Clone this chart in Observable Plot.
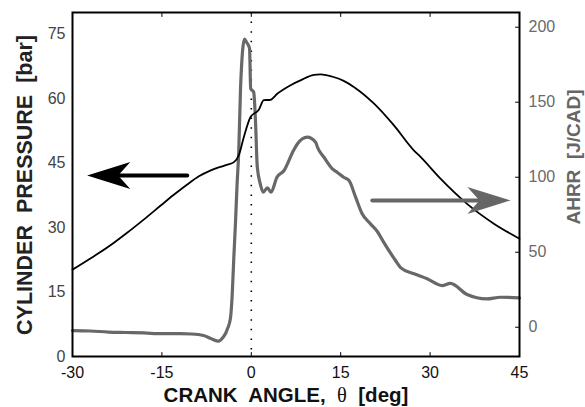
<!DOCTYPE html>
<html>
<head>
<meta charset="utf-8">
<script src="https://cdn.jsdelivr.net/npm/d3@7"></script>
<script src="https://cdn.jsdelivr.net/npm/@observablehq/plot@0.6"></script>
<style>
  html, body { margin: 0; padding: 0; background: #fff; }
  #chart { width: 585px; height: 407px; }
</style>
</head>
<body>
<div id="chart"></div>
<script>
// Cylinder pressure trace [bar] vs crank angle [deg]
const pressureAngle = [-30, -27, -24, -21, -18, -15.2, -13, -10.75, -8.8, -6.8, -4.5, -2.9, -2.1, -1.26, -0.13, 1.26, 2.1, 3.2, 4.35, 6.6, 8.25, 10.5, 11.6, 13.8, 15.5, 17.2, 20.6, 23.9, 27.3, 28.4, 31.7, 36.2, 40.7, 45];
const pressure      = [20.2, 22.8, 25.5, 28.6, 31.9, 35.1, 37.6, 40.0, 41.9, 43.3, 44.4, 45.2, 46.8, 51.0, 55.7, 57.4, 59.6, 59.7, 61.1, 63.1, 64.2, 65.5, 65.6, 65.0, 64.1, 62.7, 58.8, 53.8, 47.9, 46.4, 41.4, 35.5, 30.9, 27.4];

// Apparent heat release rate [J/CAD] vs crank angle [deg]
const ahrrAngle = [-30, -27, -24, -21, -18, -15, -12, -10, -8, -6.8, -5.45, -4.8, -4.3, -4.0, -3.5, -3.2, -2.95, -2.65, -2.4, -2.1, -1.8, -1.14, -0.8, -0.3, -0.1, 0.4, 0.7, 1.0, 1.5, 2.0, 2.7, 3.3, 4.3, 5.5, 7.1, 7.7, 9.4, 10.8, 11.1, 12.2, 13.6, 14.5, 15.5, 16.4, 17.5, 18.6, 20, 21.2, 22.2, 24.2, 25.1, 27.3, 29.5, 32, 33.4, 36.2, 39.5, 41.8, 45];
const ahrr      = [-2.2, -2.5, -3.2, -3.5, -3.8, -4.3, -4.3, -4.5, -5.5, -7.5, -9.3, -7.0, -4.0, -1.0, 6.0, 22.0, 45.0, 70.0, 94.0, 118.0, 160.0, 192.0, 190.0, 186.0, 159.0, 156.7, 138.0, 107.0, 95.6, 90.0, 93.0, 90.0, 100.0, 104.5, 118.0, 122.0, 126.7, 123.3, 120.0, 113.3, 105.6, 103.0, 100.0, 97.8, 86.7, 75.6, 68.9, 63.5, 56.7, 44.5, 39.6, 35.6, 32.3, 27.8, 29.3, 21.8, 18.9, 20.0, 19.6];

// Axis ticks and ranges
const xTicks = [-30, -15, 0, 15, 30, 45];
const pressureTicks = [0, 15, 30, 45, 60, 75];
const ahrrTicks = [0, 50, 100, 150, 200];
const xDomain = [-30, 45];
const pressureDomain = [0, 80];
const ahrrDomain = [-19.5, 209.8];

// Direction arrows: which curve belongs to which axis (x in deg, y in bar)
const arrowTail = [-10.75, 20.3];
const arrowTip = [-27.55, 43.5];
const arrowLevel = [42.1, 36.3];
const arrowColor = ["#000000", "#666666"];

const GRAY = "#686868";

// map AHRR values onto the pressure axis so both share one y scale
const toP = a => (a - ahrrDomain[0]) / (ahrrDomain[1] - ahrrDomain[0]) * (pressureDomain[1] - pressureDomain[0]) + pressureDomain[0];
const fromP = p => (p - pressureDomain[0]) / (pressureDomain[1] - pressureDomain[0]) * (ahrrDomain[1] - ahrrDomain[0]) + ahrrDomain[0];

const pressureRows = pressureAngle.map((x, i) => ({x, p: pressure[i]}));
const ahrrRows = ahrrAngle.map((x, i) => ({x, a: ahrr[i]}));
const arrows = arrowTail.map((x1, i) => ({x1, x2: arrowTip[i], y: arrowLevel[i], color: arrowColor[i], dir: arrowTip[i] < x1 ? 180 : 0}));

// short inward tick
const tickShape = { draw(context, l) { context.moveTo(0, 0); context.lineTo(0, -l); } };
// notched filled arrowhead, tip at the origin, pointing right
const headSymbol = {
  draw(context, size) {
    const k = Math.sqrt(size / Math.PI);
    context.moveTo(0, 0);
    context.lineTo(-3.2 * k, -k);
    context.lineTo(-2.3 * k, 0);
    context.lineTo(-3.2 * k, k);
    context.closePath();
  }
};

const font = "'Liberation Sans', Arial, Helvetica, sans-serif";

const chart = Plot.plot({
  width: 585,
  height: 407,
  marginLeft: 72,
  marginRight: 66,
  marginTop: 12,
  marginBottom: 51,
  style: { fontFamily: font, background: "#fff", overflow: "visible" },
  x: { domain: xDomain },
  y: { domain: pressureDomain },
  marks: [
    Plot.ruleX([0], { stroke: "#000", strokeWidth: 1.6, strokeDasharray: "1.5 8.1" }),
    Plot.line(ahrrRows, { x: "x", y: d => toP(d.a), stroke: GRAY, strokeWidth: 3.2, strokeLinejoin: "round", strokeLinecap: "round", curve: "monotone-x" }),
    Plot.line(pressureRows, { x: "x", y: "p", stroke: "#000", strokeWidth: 1.8, strokeLinejoin: "round", curve: "monotone-x" }),
    Plot.arrow(arrows, { x1: "x1", x2: "x2", y1: "y", y2: "y", stroke: "color", strokeWidth: 4, headLength: 0, insetEnd: 30 }),
    Plot.dot(arrows, { x: "x2", y: "y", fill: "color", stroke: null, r: 13.5, symbol: headSymbol, rotate: "dir" }),
    // inward ticks on the frame
    Plot.vector(xTicks, { x: d => d, frameAnchor: "bottom", length: 4, rotate: 0, anchor: "start", shape: tickShape, stroke: "#000", strokeWidth: 1 }),
    Plot.vector(xTicks, { x: d => d, frameAnchor: "top", length: 4, rotate: 180, anchor: "start", shape: tickShape, stroke: "#000", strokeWidth: 1 }),
    Plot.vector(ahrrTicks, { y: d => toP(d), frameAnchor: "right", length: 4, rotate: -90, anchor: "start", shape: tickShape, stroke: "#000", strokeWidth: 1 }),
    Plot.axisX(xTicks, { anchor: "bottom", tickSize: 0, tickPadding: 10, fontSize: 16, color: "#111", tickFormat: d => String(d), label: null }),
    Plot.axisY(pressureTicks, { anchor: "left", tickSize: 0, tickPadding: 7, fontSize: 16, color: "#444", tickFormat: d => String(d), label: null }),
    Plot.axisY(ahrrTicks.map(toP), { anchor: "right", tickSize: 0, tickPadding: 9, fontSize: 16, color: "#6a6a6a", tickFormat: d => String(Math.round(fromP(d))), label: null }),
    Plot.frame({ stroke: "#000", strokeWidth: 2 })
  ]
});

document.getElementById("chart").appendChild(chart);

// axis titles
const svg = d3.select(chart);
const xt = svg.append("text")
  .attr("x", 286).attr("y", 402)
  .attr("text-anchor", "middle")
  .attr("font-family", font)
  .attr("font-size", 20.5)
  .attr("font-weight", "bold")
  .attr("fill", "#111")
  .style("white-space", "pre")
  .attr("xml:space", "preserve");
xt.append("tspan").text("CRANK  ANGLE,  ");
xt.append("tspan").attr("font-family", "'Liberation Serif', 'DejaVu Serif', serif").attr("font-weight", "normal").text("θ");
xt.append("tspan").text("  [deg]");

svg.append("text")
  .attr("transform", "translate(32,185) rotate(-90)")
  .attr("text-anchor", "middle")
  .attr("font-family", font)
  .attr("font-size", 21.5)
  .attr("font-weight", "bold")
  .attr("fill", "#222")
  .style("white-space", "pre")
  .attr("xml:space", "preserve")
  .text("CYLINDER  PRESSURE  [bar]");

svg.append("text")
  .attr("transform", "translate(580,157) rotate(-90)")
  .attr("text-anchor", "middle")
  .attr("font-family", font)
  .attr("font-size", 19)
  .attr("font-weight", "bold")
  .attr("fill", "#666")
  .style("white-space", "pre")
  .attr("xml:space", "preserve")
  .text("AHRR  [J/CAD]");
</script>
</body>
</html>
